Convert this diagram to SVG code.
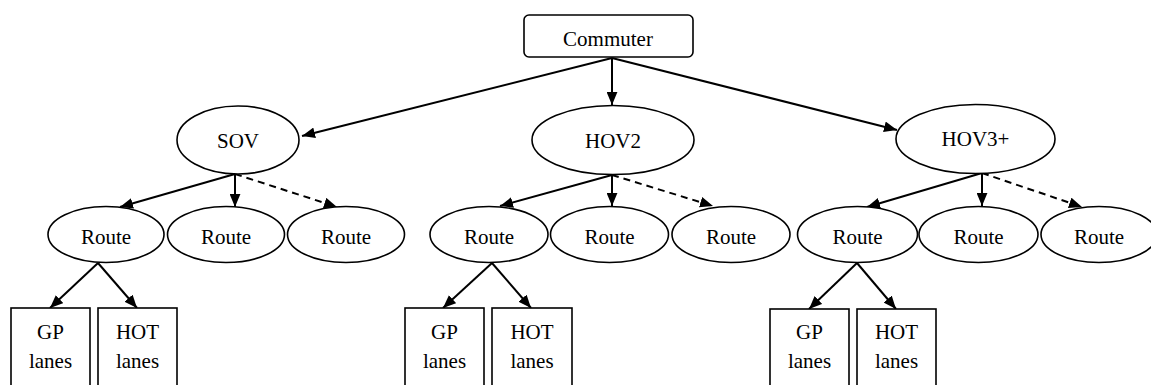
<svg xmlns="http://www.w3.org/2000/svg" width="1151" height="385" viewBox="0 0 1151 385">
<defs>
<style>
.n{fill:#fff;stroke:#000;stroke-width:1.6}
.t{font-family:'Liberation Serif','Times New Roman','DejaVu Serif',serif;font-size:21px;fill:#000;text-anchor:middle}
.e{stroke:#000;stroke-width:2;fill:none;marker-end:url(#ah)}
.d{stroke-dasharray:7,5}
</style>
<marker id="ah" viewBox="0 0 12 10" refX="12" refY="5" markerWidth="13" markerHeight="11" markerUnits="userSpaceOnUse" orient="auto">
<path d="M0,0 L12,5 L0,10 z" fill="#000"/>
</marker>
</defs>
<rect width="1151" height="385" fill="#fff"/>
<g id="connectors">
<line class="e" x1="612" y1="58" x2="302" y2="136"/>
<line class="e" x1="612" y1="58" x2="612" y2="105"/>
<line class="e" x1="612" y1="58" x2="897" y2="130"/>
<line class="e" x1="235" y1="174" x2="120" y2="207"/>
<line class="e" x1="235" y1="174" x2="235" y2="207"/>
<line class="e d" x1="235" y1="174" x2="337" y2="207"/>
<line class="e" x1="612" y1="175" x2="500" y2="206"/>
<line class="e" x1="612" y1="175" x2="612" y2="206"/>
<line class="e d" x1="612" y1="175" x2="713" y2="206"/>
<line class="e" x1="982" y1="173" x2="867" y2="207"/>
<line class="e" x1="982" y1="173" x2="982" y2="206"/>
<line class="e d" x1="982" y1="173" x2="1082" y2="207"/>
<line class="e" x1="98" y1="263" x2="50" y2="308"/>
<line class="e" x1="98" y1="263" x2="137" y2="308"/>
<line class="e" x1="492" y1="263" x2="443" y2="308"/>
<line class="e" x1="492" y1="263" x2="531" y2="308"/>
<line class="e" x1="857" y1="263" x2="809" y2="309"/>
<line class="e" x1="857" y1="263" x2="896" y2="309"/>
</g>
<g id="commuter"><rect class="n" x="524" y="15" width="169" height="42" rx="5"/><text class="t" x="608" y="46" font-family="Liberation Serif, serif">Commuter</text></g>
<g id="sov"><ellipse class="n" cx="238" cy="140" rx="61" ry="34"/><text class="t" x="238" y="148">SOV</text></g>
<g id="hov2"><ellipse class="n" cx="613" cy="140" rx="81" ry="34.5"/><text class="t" x="613" y="148">HOV2</text></g>
<g id="hov3"><ellipse class="n" cx="975.5" cy="139" rx="79.5" ry="34.5"/><text class="t" x="975.5" y="146">HOV3+</text></g>
<g id="sov-route1"><ellipse class="n" cx="106" cy="234.5" rx="58" ry="28"/><text class="t" x="106" y="244">Route</text></g>
<g id="sov-route2"><ellipse class="n" cx="226" cy="234.5" rx="58.5" ry="28"/><text class="t" x="226" y="244">Route</text></g>
<g id="sov-route3"><ellipse class="n" cx="346" cy="234.5" rx="58.5" ry="28"/><text class="t" x="346" y="244">Route</text></g>
<g id="hov2-route1"><ellipse class="n" cx="489" cy="234.5" rx="59" ry="28"/><text class="t" x="489" y="244">Route</text></g>
<g id="hov2-route2"><ellipse class="n" cx="609.5" cy="234.5" rx="59" ry="28"/><text class="t" x="609.5" y="244">Route</text></g>
<g id="hov2-route3"><ellipse class="n" cx="731" cy="234.5" rx="59" ry="28"/><text class="t" x="731" y="244">Route</text></g>
<g id="hov3-route1"><ellipse class="n" cx="857.5" cy="234.5" rx="60" ry="28"/><text class="t" x="857.5" y="244">Route</text></g>
<g id="hov3-route2"><ellipse class="n" cx="978.5" cy="234.5" rx="59.5" ry="28"/><text class="t" x="978.5" y="244">Route</text></g>
<g id="hov3-route3"><ellipse class="n" cx="1099" cy="234.5" rx="58" ry="28"/><text class="t" x="1099" y="244">Route</text></g>
<g id="sov-gp"><rect class="n" x="11" y="308" width="79" height="90"/><text class="t" x="50.5" y="339">GP</text><text class="t" x="50.5" y="368">lanes</text></g>
<g id="sov-hot"><rect class="n" x="98" y="308" width="79" height="90"/><text class="t" x="137.5" y="339">HOT</text><text class="t" x="137.5" y="368">lanes</text></g>
<g id="hov2-gp"><rect class="n" x="405" y="308" width="79" height="90"/><text class="t" x="444.5" y="339">GP</text><text class="t" x="444.5" y="368">lanes</text></g>
<g id="hov2-hot"><rect class="n" x="492" y="308" width="80" height="90"/><text class="t" x="532" y="339">HOT</text><text class="t" x="532" y="368">lanes</text></g>
<g id="hov3-gp"><rect class="n" x="770" y="309" width="79" height="90"/><text class="t" x="809.5" y="339">GP</text><text class="t" x="809.5" y="368">lanes</text></g>
<g id="hov3-hot"><rect class="n" x="857" y="309" width="79" height="90"/><text class="t" x="896.5" y="339">HOT</text><text class="t" x="896.5" y="368">lanes</text></g>
</svg>
